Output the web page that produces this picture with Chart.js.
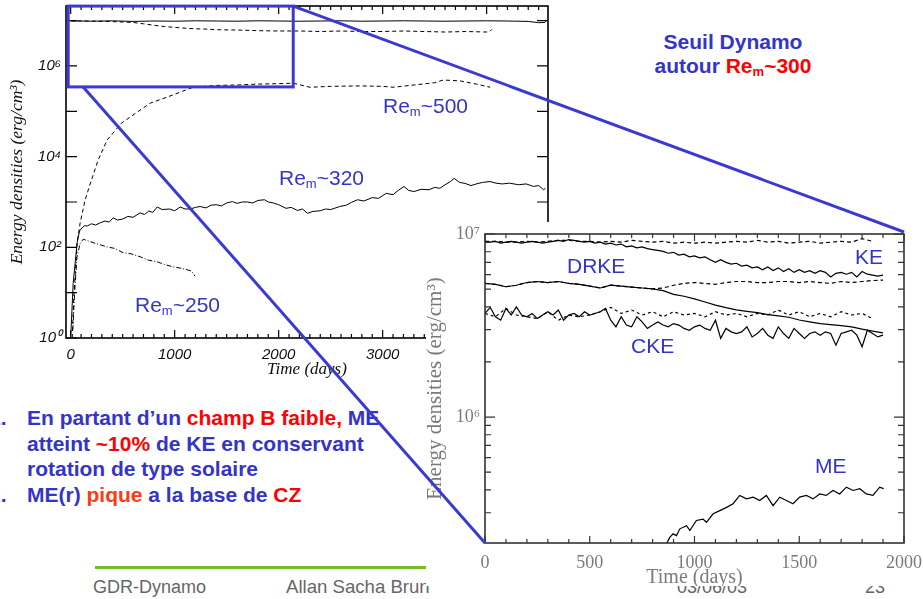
<!DOCTYPE html>
<html><head><meta charset="utf-8">
<script src="https://cdn.jsdelivr.net/npm/chart.js@4"></script>
<style>
body{margin:0;background:#fff}
#slide{position:relative;width:923px;height:599px;overflow:hidden;background:#fff;font-family:"Liberation Sans",Arial,sans-serif}
.abs{position:absolute;white-space:nowrap;line-height:normal}
.b{color:#3434c8}
.r{color:#ff0000}
.o{color:#ff3a10}
sub{font-size:0.62em;vertical-align:-0.25em;line-height:0}
canvas{position:absolute}
</style></head>
<body>
<script>
// ---------------- DATA ----------------
// main chart (days, erg/cm^3)
const mainT_KE  = [0,200,400,600,800,1000,1200,1400,1600,1800,2000,2200,2400,2600,2800,3000,3200,3400,3600,3800,4000,4200,4400,4500,4560,4575];
const mainKE    = [9.9e6,9.7e6,9.9e6,9.6e6,9.8e6,9.7e6,9.9e6,9.8e6,9.7e6,9.9e6,9.8e6,9.7e6,9.8e6,9.9e6,9.7e6,9.8e6,9.9e6,9.8e6,9.7e6,9.8e6,9.9e6,9.8e6,9.6e6,9.0e6,9.1e6,1.0e7];
const mainT_KEd = [0,200,400,600,700,800,900,1000,1100,1200,1300,1400,1600,1800,2000,2200,2400,2600,2800,3000,3200,3400,3600,3800,4000,4030,4050];
const mainKEd   = [9.8e6,9.8e6,9.5e6,9.1e6,8.5e6,7.9e6,7.4e6,7.1e6,6.8e6,6.6e6,6.5e6,6.3e6,6.2e6,6.0e6,5.9e6,5.9e6,5.75e6,5.9e6,5.75e6,5.75e6,5.9e6,5.75e6,5.6e6,5.75e6,5.6e6,5.75e6,6.4e6];
const mainT_ME500 = [15,30,62,91,139,179,265,351,489,626,764,936,1177,1400,1600,1800,2000,2140,2300,2500,2784,3000,3101,3300,3500,3583,3745,3900,4034];
const mainME500   = [1,8,126,347,1100,2190,8500,23400,55000,91000,151000,209000,339000,372000,380000,398000,407000,417000,339000,355000,363000,355000,339000,380000,427000,490000,468000,398000,339000];
const mainT_ME320 = [0,24,62,85,110,135,159,200,240,284,330,370,409,450,500,550,600,668,710,750,790,832,880,950,1000,1053,1100,1150,1200,1245,1300,1350,1400,1450,1500,1555,1600,1650,1700,1750,1800,1864,1900,1950,2000,2071,2120,2180,2230,2277,2330,2400,2450,2500,2587,2650,2700,2759,2820,2900,2960,3034,3100,3150,3206,3250,3300,3370,3447,3500,3550,3600,3650,3688,3740,3791,3850,3900,3960,4032,4090,4150,4220,4307,4380,4450,4500,4548,4565];
const mainME320   = [1,16,126,230,270,300,295,330,310,347,380,360,447,400,420,480,460,575,530,630,590,776,680,700,640,776,700,700,760,794,740,850,870,820,950,1020,930,1000,1000,950,1080,1120,1000,950,870,724,760,650,700,562,620,640,700,680,794,850,980,1120,1050,1250,1200,1550,1450,1800,2190,1800,1700,1900,1860,2100,2000,2400,2800,3310,2700,2570,2300,2500,2700,2820,2600,2500,2600,2400,2500,2200,2300,1860,2000];
const mainT_ME250 = [20,40,60,90,120,180,250,351,420,505,580,668,750,832,900,986,1050,1120,1160,1197];
const mainME250   = [1.5,12,60,120,151,135,120,102,95,76,72,62,52,48,42,37,35,32,30,23];
const mainXTicks = [0,1000,2000,3000,4000];
const mainYTicks = [1,1e2,1e4,1e6];
const mainYLabels = ['10⁰','10²','10⁴','10⁶'];
// inset chart (days, 10^6 erg/cm^3)
const t25 = [0,25,50,75,100,125,150,175,200,225,250,275,300,325,350,375,400,425,450,475,500,525,550,575,600,625,650,675,700,725,750,775,800,825,850,875,900,925,950,975,1000,1025,1050,1075,1100,1125,1150,1175,1200,1225,1250,1275,1300,1325,1350,1375,1400,1425,1450,1475,1500,1525,1550,1575,1600,1625,1650,1675,1700,1725,1750,1775,1800,1825,1850,1875,1900];
const t50 = [0,50,100,150,200,250,300,350,400,450,500,550,600,650,700,750,800,850,900,950,1000,1050,1100,1150,1200,1250,1300,1350,1400,1450,1500,1550,1600,1650,1700,1750,1800,1850,1900];
const insKE  = [9.12,9.02,9.12,8.91,9.02,9.12,9.02,8.91,9.02,9.12,9.02,8.91,9.02,9.12,9.23,9.12,9.33,9.23,9.12,9.02,9.12,8.91,9.02,8.81,8.91,8.71,8.81,8.51,8.61,8.41,8.51,8.32,8.22,8.13,8.04,7.85,7.94,7.67,7.76,7.50,7.59,7.41,7.50,7.24,7.00,7.24,7.00,6.84,6.92,6.68,6.76,6.53,6.61,6.38,6.61,6.31,6.53,6.24,6.46,6.17,6.38,6.17,6.31,6.10,6.31,6.17,5.82,6.10,6.17,6.03,6.17,5.82,6.24,6.03,5.96,5.89,5.96];
const insKEd = [9.12,9.12,9.02,9.02,9.12,9.02,9.12,9.23,9.23,9.12,9.12,9.02,9.12,9.02,9.23,9.12,9.02,9.12,8.91,9.02,8.91,9.02,8.91,9.02,9.12,9.02,9.23,9.02,9.12,8.91,9.02,9.12,8.91,9.02,9.12,9.02,9.43,9.12];
const insDR  = [5.37,5.31,5.15,5.25,5.43,5.50,5.43,5.50,5.37,5.31,5.19,5.07,5.25,5.19,5.13,5.07,5.01,4.90,4.68,4.57,4.42,4.25,4.09,3.96,3.85,3.78,3.72,3.63,3.57,3.51,3.39,3.31,3.24,3.20,3.16,3.11,3.02,2.95,2.88];
const insDRd = [5.37,5.31,5.15,5.25,5.43,5.50,5.43,5.50,5.37,5.31,5.19,5.07,5.25,5.19,5.13,5.07,5.01,5.07,5.25,5.37,5.43,5.37,5.31,5.43,5.50,5.50,5.43,5.43,5.50,5.50,5.43,5.50,5.43,5.37,5.50,5.43,5.50,5.57,5.60];
const insCKE = [3.68,3.97,3.53,3.38,3.92,3.61,4.00,3.61,3.53,3.68,3.45,3.61,3.76,3.61,3.84,3.38,3.61,3.68,3.53,3.76,3.61,3.68,3.76,3.92,3.38,3.11,3.53,3.18,3.11,3.53,3.31,3.05,3.18,3.31,3.18,3.11,3.24,3.18,3.05,2.98,3.11,3.18,3.05,2.98,3.38,2.69,3.05,2.92,2.86,2.92,3.11,2.74,2.86,3.05,2.80,2.69,3.11,2.86,2.69,3.05,2.86,2.69,2.86,2.92,2.80,2.92,2.86,2.47,2.86,2.92,2.98,2.80,2.42,2.98,2.86,2.74,2.80];
const insCKEd = [3.68,3.53,3.92,3.61,3.53,3.45,3.76,3.38,3.61,3.53,3.61,3.76,3.97,3.68,3.84,3.61,3.76,3.53,3.76,3.61,3.68,3.53,3.76,3.61,3.68,3.53,3.68,3.61,3.84,3.61,3.76,3.53,3.68,3.53,3.76,3.61,3.68,3.45];
const tME  = [866,882,898,914,930,962,978,1009,1041,1057,1089,1121,1153,1184,1216,1248,1280,1311,1343,1375,1407,1439,1470,1502,1534,1566,1598,1629,1661,1693,1725,1757,1789,1820,1852,1884,1903];
const insME = [0.203,0.220,0.230,0.225,0.245,0.255,0.240,0.272,0.277,0.266,0.296,0.308,0.321,0.336,0.373,0.357,0.365,0.350,0.373,0.328,0.365,0.350,0.336,0.365,0.373,0.357,0.380,0.373,0.397,0.380,0.414,0.397,0.406,0.380,0.373,0.414,0.406];
const insXTicks = [0,500,1000,1500,2000];
const insYTicks = [1e6,1e7];
const insYLabels = ['10⁶','10⁷'];
// zoomed region of the main chart shown by the inset
const zoomT0 = -24, zoomT1 = 2140, zoomLo = 3.45e5, zoomHi = 2.09e7, zoomLinkT = 120;
</script>

<div id="slide">
  <div class="abs b" style="left:633px;top:29.7px;width:200px;text-align:center;font-size:21px;font-weight:bold;line-height:24px">Seuil Dynamo<br>autour <span class="r">Re<sub>m</sub>~300</span></div>

  <div class="abs b" style="left:-11px;top:404.9px;font-size:21px;font-weight:bold;line-height:25.7px">1.<br><br><br>2.</div>
  <div class="abs b" style="left:27px;top:404.9px;font-size:21px;font-weight:bold;line-height:25.7px">En partant d’un <span class="r">champ B faible,</span> ME<br>atteint <span class="r">~10%</span> de KE en conservant<br>rotation de type solaire<br>ME(r) <span class="o">pique</span> a la base de <span class="r">CZ</span></div>

  <div class="abs" style="left:95px;top:566px;width:620px;height:3px;background:#76bc2a"></div>
  <div class="abs" style="left:93px;top:576.7px;font-size:18px;color:#666">GDR-Dynamo</div>
  <div class="abs" style="left:286px;top:576.3px;font-size:18.6px;color:#666">Allan Sacha Brun</div>
  <div class="abs" style="left:677px;top:576.7px;font-size:18px;color:#666">03/06/03</div>
  <div class="abs" style="left:865px;top:576.7px;font-size:18px;color:#666">23</div>

  <canvas id="main" width="560" height="390" style="left:0;top:0"></canvas>
  <div class="abs b" style="left:383px;top:94px;font-size:21px">Re<sub>m</sub>~500</div>
  <div class="abs b" style="left:279px;top:166px;font-size:21px">Re<sub>m</sub>~320</div>
  <div class="abs b" style="left:135px;top:293px;font-size:21px">Re<sub>m</sub>~250</div>

  <canvas id="inset" width="497" height="364" style="left:426px;top:222px;background:#fff"></canvas>
  <div class="abs b" style="left:567px;top:254px;font-size:21px">DRKE</div>
  <div class="abs b" style="left:855px;top:245px;font-size:21px">KE</div>
  <div class="abs b" style="left:631px;top:334px;font-size:21px">CKE</div>
  <div class="abs b" style="left:815px;top:454px;font-size:21px">ME</div>

  <svg id="ov" class="abs" style="left:0;top:0" width="923" height="599"></svg>
</div>

<script>
const pts = (ts, vs, k) => vs.map((v, i) => ({x: ts[i], y: v * (k || 1)}));

function linTicks(from, to, step, majorEvery, majLen, minLen) {
  const r = [];
  for (let v = from; v <= to + 1e-9; v += step) r.push({v, len: (Math.round(v) % majorEvery === 0) ? majLen : minLen});
  return r;
}
function logTicks(e0, e1, majLen, minLen, minor) {
  const r = [];
  for (let e = e0; e <= e1; e++) {
    const base = Math.pow(10, e);
    r.push({v: base, len: majLen});
    if (minor && e < e1) for (let m = 2; m <= 9; m++) r.push({v: m * base, len: minLen});
  }
  return r;
}

const frameTicks = {
  id: 'frameTicks',
  afterDatasetsDraw(chart, args, o) {
    const {ctx, chartArea: a} = chart;
    const xs = chart.scales.x, ys = chart.scales.y;
    ctx.save();
    ctx.strokeStyle = o.color;
    ctx.lineWidth = o.tickWidth;
    ctx.beginPath();
    o.xTicks.forEach(t => {
      const p = xs.getPixelForValue(t.v);
      if (p < a.left - 0.5 || p > a.right + 0.5) return;
      ctx.moveTo(p, a.bottom); ctx.lineTo(p, a.bottom - t.len);
      ctx.moveTo(p, a.top); ctx.lineTo(p, a.top + t.len);
    });
    o.yTicks.forEach(t => {
      const p = ys.getPixelForValue(t.v);
      if (p < a.top - 0.5 || p > a.bottom + 0.5) return;
      ctx.moveTo(a.left, p); ctx.lineTo(a.left + t.len, p);
      ctx.moveTo(a.right, p); ctx.lineTo(a.right - t.len, p);
    });
    ctx.stroke();
    ctx.lineWidth = o.frameWidth;
    ctx.strokeRect(a.left, a.top, a.right - a.left, a.bottom - a.top);
    ctx.restore();
  }
};

function line(data, dash, w) {
  return {data, borderColor: '#000', borderWidth: w, borderDash: dash || [], pointRadius: 0, tension: 0, fill: false};
}

const mainChart = new Chart(document.getElementById('main'), {
  type: 'line',
  data: {datasets: [
    line(pts(mainT_KE, mainKE), null, 1),
    line(pts(mainT_KEd, mainKEd), [4, 3], 1),
    line(pts(mainT_ME500, mainME500), [4, 3], 1),
    line(pts(mainT_ME320, mainME320), null, 1),
    line(pts(mainT_ME250, mainME250), [5, 2, 1, 2], 1)
  ]},
  options: {
    responsive: false, animation: false,
    layout: {padding: {left: 0, top: 6, right: 12, bottom: 0}},
    plugins: {legend: {display: false}, tooltip: {enabled: false},
      frameTicks: {color: '#000', tickWidth: 1.2, frameWidth: 1.6,
        xTicks: linTicks(0, 4500, 100, 1000, 8, 4), yTicks: logTicks(0, 7, 11, 0, false)}},
    scales: {
      x: {type: 'linear', min: -45, max: 4590,
        grid: {display: false, drawTicks: false}, border: {display: false},
        afterBuildTicks: s => { s.ticks = mainXTicks.map(v => ({value: v})); },
        afterFit: s => { s.height = 52; s.paddingLeft = 0; s.paddingRight = 0; },
        ticks: {padding: 8, color: '#111', maxRotation: 0, autoSkip: false,
          font: {family: 'Liberation Sans', style: 'italic', size: 15},
          callback: (v, i) => String(mainXTicks[i])},
        title: {display: true, text: 'Time (days)', color: '#111',
          font: {family: 'Liberation Serif', style: 'italic', size: 17, lineHeight: 1.2},
          padding: {top: 0, bottom: 10}}},
      y: {type: 'logarithmic', min: 1, max: 2.1e7,
        grid: {display: false, drawTicks: false}, border: {display: false},
        afterBuildTicks: s => { s.ticks = mainYTicks.map(v => ({value: v})); },
        afterFit: s => { s.width = 66; s.paddingTop = 0; s.paddingBottom = 0; },
        ticks: {padding: 5, color: '#111', autoSkip: false,
          font: {family: 'Liberation Sans', style: 'italic', size: 15},
          callback: (v, i) => mainYLabels[i]},
        title: {display: true, text: 'Energy densities (erg/cm³)', color: '#111',
          font: {family: 'Liberation Serif', style: 'italic', size: 17.5, lineHeight: 1.2},
          padding: {top: 7, bottom: 0}}}
    }
  },
  plugins: [frameTicks]
});

const insetChart = new Chart(document.getElementById('inset'), {
  type: 'line',
  data: {datasets: [
    line(pts(t25, insKE, 1e6), null, 1.2),
    line(pts(t50, insKEd, 1e6), [4, 3], 1.2),
    line(pts(t50, insDR, 1e6), null, 1.2),
    line(pts(t50, insDRd, 1e6), [4, 3], 1.2),
    line(pts(t25, insCKE, 1e6), null, 1.2),
    line(pts(t50, insCKEd, 1e6), [3, 3], 1.2),
    line(pts(tME, insME, 1e6), null, 1.2)
  ]},
  options: {
    responsive: false, animation: false,
    layout: {padding: {left: 0, top: 12, right: 19, bottom: 0}},
    plugins: {legend: {display: false}, tooltip: {enabled: false},
      frameTicks: {color: '#333', tickWidth: 1.2, frameWidth: 1.6,
        xTicks: linTicks(0, 2000, 100, 500, 7, 4), yTicks: logTicks(5, 7, 10, 6, true)}},
    scales: {
      x: {type: 'linear', min: 0, max: 2000,
        grid: {display: false, drawTicks: false}, border: {display: false},
        afterBuildTicks: s => { s.ticks = insXTicks.map(v => ({value: v})); },
        afterFit: s => { s.height = 43; s.paddingLeft = 0; s.paddingRight = 0; },
        ticks: {padding: 9, color: '#7a7a7a', maxRotation: 0, autoSkip: false,
          font: {family: 'Liberation Serif', size: 18},
          callback: (v, i) => String(insXTicks[i])},
        title: {display: true, text: 'Time (days)', color: '#7a7a7a',
          font: {family: 'Liberation Serif', size: 20, lineHeight: 1},
          padding: {top: 0, bottom: -2}}},
      y: {type: 'logarithmic', min: 2.05e5, max: 1e7,
        grid: {display: false, drawTicks: false}, border: {display: false},
        afterBuildTicks: s => { s.ticks = insYTicks.map(v => ({value: v})); },
        afterFit: s => { s.width = 59; s.paddingTop = 0; s.paddingBottom = 0; },
        ticks: {padding: 5, color: '#7a7a7a', autoSkip: false,
          font: {family: 'Liberation Serif', size: 18},
          callback: (v, i) => insYLabels[i]},
        title: {display: true, text: 'Energy densities (erg/cm³)', color: '#7a7a7a',
          font: {family: 'Liberation Serif', size: 21, lineHeight: 1},
          padding: {top: -1, bottom: 0}}}
    }
  },
  plugins: [frameTicks]
});

// zoom box + connector lines, positioned from the charts' own scales
(function () {
  const mx = mainChart.scales.x, my = mainChart.scales.y;
  const ic = document.getElementById('inset');
  const ia = insetChart.chartArea;
  const ox = ic.offsetLeft, oy = ic.offsetTop;
  const x0 = mx.getPixelForValue(zoomT0), x1 = mx.getPixelForValue(zoomT1);
  const y0 = my.getPixelForValue(zoomHi), y1 = my.getPixelForValue(zoomLo);
  const xl = mx.getPixelForValue(zoomLinkT);
  const col = '#3a3ad2';
  const svg = document.getElementById('ov');
  const NS = 'http://www.w3.org/2000/svg';
  function el(tag, attrs) { const e = document.createElementNS(NS, tag); for (const k in attrs) e.setAttribute(k, attrs[k]); svg.appendChild(e); }
  el('rect', {x: x0, y: y0, width: x1 - x0, height: y1 - y0, fill: 'none', stroke: col, 'stroke-width': 3});
  el('line', {x1: x1, y1: y0, x2: ox + ia.right, y2: oy + ia.top - 2, stroke: col, 'stroke-width': 3});
  el('line', {x1: xl, y1: y1, x2: ox + ia.left, y2: oy + ia.bottom, stroke: col, 'stroke-width': 3});
})();
</script>
</body></html>
